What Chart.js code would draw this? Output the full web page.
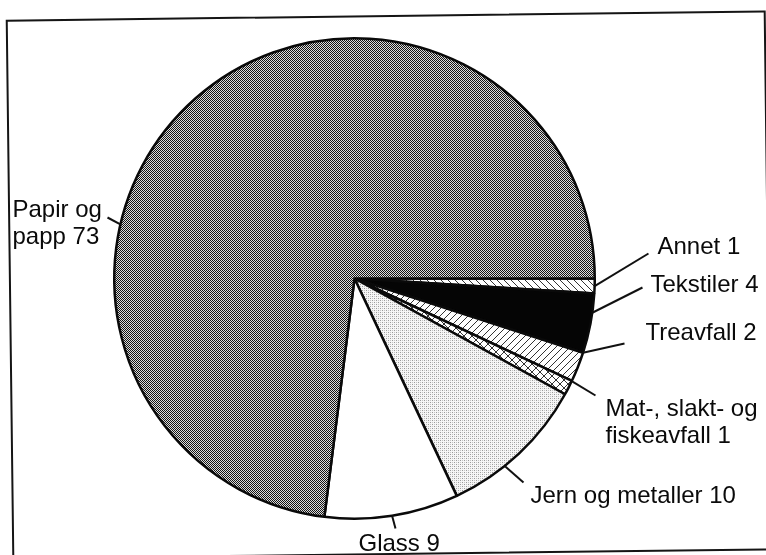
<!DOCTYPE html>
<html>
<head>
<meta charset="utf-8">
<script src="https://cdn.jsdelivr.net/npm/chart.js@4.4.0/dist/chart.umd.min.js"></script>
<style>
  html, body { margin: 0; padding: 0; background: #fff; }
  #wrap { position: relative; width: 766px; height: 555px; overflow: hidden; }
  #frame { position: absolute; left: 9px; top: 15px; width: 756px; height: 536px;
           border: 2px solid #151515; transform: rotate(-0.7deg); }
  #chart { position: absolute; left: 0; top: 0; }
</style>
</head>
<body>
<div id="wrap">
  <div id="frame"></div>
  <canvas id="chart" width="766" height="555"></canvas>
</div>
<script>
// data (per cent), clockwise from 3 o'clock
const categories = ['Annet', 'Tekstiler', 'Treavfall', 'Mat-, slakt- og fiskeavfall', 'Jern og metaller', 'Glass', 'Papir og papp'];
const shares = [1, 4, 2, 1, 10, 9, 73];
const labelLines = [
    ['Annet 1'],
    ['Tekstiler 4'],
    ['Treavfall 2'],
    ['Mat-, slakt- og', 'fiskeavfall 1'],
    ['Jern og metaller 10'],
    ['Glass 9'],
    ['Papir og', 'papp 73']
];

// label placement, relative to the pie centre (px), and leader angle shift (deg)
const labelText = [[303, -25], [296, 13], [291, 61], [251, 137], [176, 224], [4, 272], [-342, -62]];
const leaderEnd = [[294, -25], [288, 9], [270, 65], [241, 117], [169, 204], [41, 250], [-247, -61]];
const leaderShift = [0, -2.6, -3.6, -1.7, 4.5, 0, -35.6];

function makePattern(size, draw) {
    const c = document.createElement('canvas');
    c.width = size;
    c.height = size;
    const g = c.getContext('2d');
    draw(g, size);
    return g.createPattern(c, 'repeat');
}

// tett raster (papir)
const darkScreen = makePattern(2, (g) => {
    g.fillStyle = '#dcdcdc';
    g.fillRect(0, 0, 2, 2);
    g.fillStyle = '#141414';
    g.fillRect(0, 0, 1, 1);
    g.fillRect(1, 1, 1, 1);
});

// lyst raster (metaller)
const lightScreen = makePattern(4, (g) => {
    g.fillStyle = '#f6f6f6';
    g.fillRect(0, 0, 4, 4);
    g.fillStyle = '#9a9a9a';
    g.fillRect(0, 0, 1, 1);
    g.fillRect(2, 2, 1, 1);
    g.fillStyle = '#c4c4c4';
    g.fillRect(2, 0, 1, 1);
    g.fillRect(0, 2, 1, 1);
});

function hatch(size, dirs) {
    return makePattern(size, (g, s) => {
        g.fillStyle = '#fff';
        g.fillRect(0, 0, s, s);
        g.strokeStyle = '#333';
        g.lineWidth = 1;
        g.beginPath();
        if (dirs.includes('\\')) {
            g.moveTo(-1, -1); g.lineTo(s + 1, s + 1);
        }
        if (dirs.includes('/')) {
            g.moveTo(-1, s + 1); g.lineTo(s + 1, -1);
        }
        g.stroke();
    });
}

const fills = [
    hatch(7, '\\'),
    '#050505',
    hatch(7, '/'),
    hatch(8, '\\/'),
    lightScreen,
    '#ffffff',
    darkScreen
];

const labelPlugin = {
    id: 'leaderLabels',
    afterDatasetsDraw(chart) {
        const ctx = chart.ctx;
        const arcs = chart.getDatasetMeta(0).data;
        ctx.save();
        ctx.strokeStyle = '#111';
        ctx.fillStyle = '#0a0a0a';
        ctx.lineWidth = 2;
        ctx.font = '24px "Liberation Sans", Arial, sans-serif';
        ctx.textBaseline = 'alphabetic';
        arcs.forEach((arc, i) => {
            const a = (arc.startAngle + arc.endAngle) / 2 + leaderShift[i] * Math.PI / 180;
            const r = arc.outerRadius;
            ctx.beginPath();
            ctx.moveTo(arc.x + Math.cos(a) * r, arc.y + Math.sin(a) * r);
            ctx.lineTo(arc.x + leaderEnd[i][0], arc.y + leaderEnd[i][1]);
            ctx.stroke();
            labelLines[i].forEach((line, k) => {
                ctx.fillText(line, arc.x + labelText[i][0], arc.y + labelText[i][1] + k * 27);
            });
        });
        ctx.restore();
    }
};

new Chart(document.getElementById('chart'), {
    type: 'pie',
    data: {
        labels: categories,
        datasets: [{
            data: shares,
            backgroundColor: fills,
            borderColor: '#0a0a0a',
            borderWidth: 2.5
        }]
    },
    options: {
        responsive: false,
        animation: false,
        rotation: 90,
        layout: { padding: { left: 113, right: 170, top: 37, bottom: 35 } },
        plugins: {
            legend: { display: false },
            tooltip: { enabled: false }
        }
    },
    plugins: [labelPlugin]
});
</script>
</body>
</html>
